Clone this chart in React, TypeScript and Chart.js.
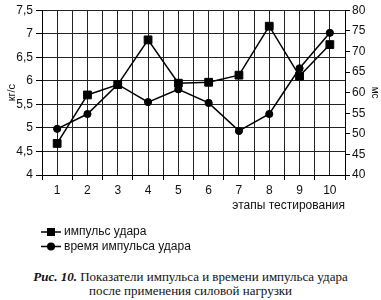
import React, { useEffect, useRef } from 'react';
import { Chart, registerables } from 'chart.js';

Chart.register(...registerables);

const categories = ['1', '2', '3', '4', '5', '6', '7', '8', '9', '10'];
const impulse = [4.67, 5.7, 5.92, 6.87, 5.95, 5.97, 6.12, 7.16, 6.1, 6.77];
const impulseTime = [51.2, 54.8, 62, 57.7, 60.8, 57.5, 50.7, 54.8, 65.9, 74.5];
const seriesNames = ['импульс удара', 'время импульса удара'];
const leftRange = { min: 4, max: 7.5, step: 0.5 };
const rightRange = { min: 40, max: 80, step: 5 };
const xTitle = 'этапы тестирования';
const leftTitle = 'кг/с';
const rightTitle = 'мс';

const FONT = '"Liberation Sans", Arial, sans-serif';
const INK = '#111';

const legendPlugin = {
  id: 'stackedLegend',
  afterDraw(chart: any) {
    const ctx = chart.ctx;
    const base = chart.chartArea.bottom;
    chart.data.datasets.forEach((ds: any, i: number) => {
      const y = base + 57 + i * 14.5;
      ctx.save();
      ctx.strokeStyle = '#000';
      ctx.lineWidth = 1.5;
      ctx.beginPath();
      ctx.moveTo(41, y);
      ctx.lineTo(61, y);
      ctx.stroke();
      ctx.fillStyle = '#000';
      if (ds.pointStyle === 'rect') {
        ctx.fillRect(51 - 4, y - 4, 8, 8);
      } else {
        ctx.beginPath();
        ctx.arc(51, y, 4, 0, Math.PI * 2);
        ctx.fill();
      }
      ctx.font = '12px ' + FONT;
      ctx.textBaseline = 'middle';
      ctx.textAlign = 'left';
      ctx.fillStyle = INK;
      ctx.fillText(ds.label, 64, y);
      ctx.restore();
    });
  },
};

export default function App() {
  const ref = useRef<HTMLCanvasElement | null>(null);

  useEffect(() => {
    if (!ref.current) return;
    const chart = new Chart(ref.current, {
      type: 'line',
      data: {
        datasets: [
          {
            label: seriesNames[0],
            data: categories.map((c, i) => ({ x: i + 1, y: impulse[i] })),
            yAxisID: 'yL',
            borderColor: '#000',
            backgroundColor: '#000',
            borderWidth: 1.5,
            pointStyle: 'rect',
            pointRadius: 5.5,
            pointBorderWidth: 1,
            tension: 0,
          },
          {
            label: seriesNames[1],
            data: categories.map((c, i) => ({ x: i + 1, y: impulseTime[i] })),
            yAxisID: 'yR',
            borderColor: '#000',
            backgroundColor: '#000',
            borderWidth: 1.5,
            pointStyle: 'circle',
            pointRadius: 3.6,
            pointBorderWidth: 1,
            tension: 0,
          },
        ],
      },
      options: {
        responsive: false,
        animation: false,
        layout: { padding: { top: 8, left: 0, right: 0, bottom: 47 } },
        plugins: {
          legend: { display: false },
          tooltip: { enabled: false },
        },
        scales: {
          x: {
            type: 'linear',
            min: 0.5,
            max: categories.length + 0.5,
            afterFit: (s: any) => {
              s.height = 40;
            },
            afterBuildTicks: (s: any) => {
              const t = [];
              for (let v = 0.5; v <= categories.length + 0.5 + 1e-9; v += 0.5) t.push({ value: v });
              s.ticks = t;
            },
            ticks: {
              autoSkip: false,
              maxRotation: 0,
              padding: 3,
              color: INK,
              font: { size: 12, family: FONT },
              callback: (v: any) => (Number.isInteger(v) ? categories[v - 1] : ''),
            },
            grid: {
              color: '#222',
              lineWidth: 1,
              tickLength: 5,
              tickColor: (c: any) => (c.tick && Number.isInteger(c.tick.value) ? 'rgba(0,0,0,0)' : '#000'),
            },
            border: { color: '#000', width: 1 },
            title: {
              display: true,
              text: xTitle,
              align: 'end',
              color: INK,
              font: { size: 12, family: FONT },
              padding: { top: 0, bottom: 2 },
            },
          },
          yL: {
            type: 'linear',
            position: 'left',
            min: leftRange.min,
            max: leftRange.max,
            afterFit: (s: any) => {
              s.width = 42;
            },
            ticks: {
              stepSize: leftRange.step,
              padding: 3,
              color: INK,
              font: { size: 12, family: FONT },
              callback: (v: any) => String(v).replace('.', ','),
            },
            grid: { color: '#222', lineWidth: 1, tickLength: 6, tickColor: '#000' },
            border: { color: '#000', width: 1 },
            title: {
              display: true,
              text: leftTitle,
              color: INK,
              font: { size: 11, family: FONT },
              padding: { top: 5, bottom: 0 },
            },
          },
          yR: {
            type: 'linear',
            position: 'right',
            min: rightRange.min,
            max: rightRange.max,
            afterFit: (s: any) => {
              s.width = 36;
            },
            ticks: {
              stepSize: rightRange.step,
              padding: 2,
              color: INK,
              font: { size: 12, family: FONT },
            },
            grid: { drawOnChartArea: false, tickLength: 5, tickColor: '#000' },
            border: { color: '#000', width: 1 },
            title: {
              display: true,
              text: rightTitle,
              color: INK,
              font: { size: 10, family: FONT },
              padding: { top: 0, bottom: 0 },
            },
          },
        },
      } as any,
      plugins: [legendPlugin],
    });
    return () => chart.destroy();
  }, []);

  return (
    <div style={{ position: 'absolute', left: 0, top: 0, width: 381, height: 300, background: '#fff', overflow: 'hidden' }}>
      <canvas ref={ref} width={381} height={262} style={{ display: 'block', width: 381, height: 262 }} />
      <div
        style={{
          position: 'absolute',
          left: 0,
          top: 270,
          width: 381,
          textAlign: 'center',
          fontFamily: '"Liberation Serif", "DejaVu Serif", serif',
          fontSize: 13,
          lineHeight: '14px',
          color: INK,
        }}
      >
        <div>
          <b><i>Рис. 10.</i></b> Показатели импульса и времени импульса удара
        </div>
        <div>после применения силовой нагрузки</div>
      </div>
    </div>
  );
}
